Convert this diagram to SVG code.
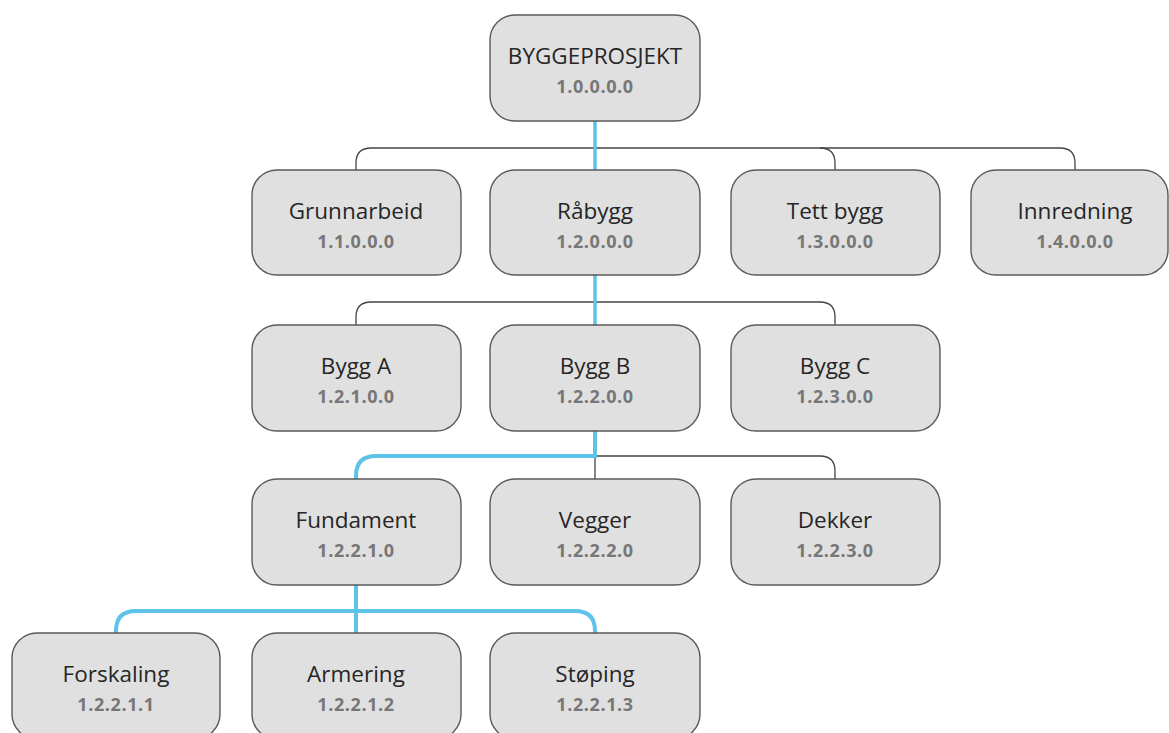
<svg xmlns="http://www.w3.org/2000/svg" width="1169" height="733" viewBox="0 0 1169 733">
<style>
.box{fill:#e0e0e0;stroke:#5a5a5a;stroke-width:1.4}
.lbl{font-family:"Open Sans","Liberation Sans",sans-serif;font-size:22.5px;fill:#262626;text-anchor:middle}
.num{font-family:"Open Sans","Liberation Sans",sans-serif;font-size:18px;font-weight:bold;fill:#777;text-anchor:middle;letter-spacing:0.6px}
.dk{fill:none;stroke:#444;stroke-width:1.3}
.bl{fill:none;stroke:#5ec3e8;stroke-width:4}
</style>
<rect width="1169" height="733" fill="#fff"/>
<g id="connectors">
<path class="dk" d="M356,170 V163 Q356,148 371,148 H1060 Q1075,148 1075,163 V170"/>
<path class="dk" d="M820,148 Q835,148 835,163 V170"/>
<path class="bl" d="M595,121 V170" style="stroke-width:3.5"/>
<path class="dk" d="M356,325 V317 Q356,302 371,302 H820 Q835,302 835,317 V325"/>
<path class="bl" d="M595,275 V325" style="stroke-width:3.5"/>
<path class="dk" d="M595,456 V479"/>
<path class="dk" d="M595,456 H820 Q835,456 835,471 V479"/>
<path class="bl" d="M595,431 V456 H376 Q356,456 356,476 V479"/>
<path class="bl" d="M356,585 V633"/>
<path class="bl" d="M116,633 V631 Q116,611 136,611 H575 Q595,611 595,631 V633"/>
</g>
<g id="n-byggeprosjekt"><rect class="box" x="490" y="15" width="210" height="106" rx="25"/><text class="lbl" x="595" y="64">BYGGEPROSJEKT</text><text class="num" x="595" y="93">1.0.0.0.0</text></g>
<g id="n-grunnarbeid"><rect class="box" x="252" y="170" width="209" height="105" rx="25"/><text class="lbl" x="356" y="219">Grunnarbeid</text><text class="num" x="356" y="248">1.1.0.0.0</text></g>
<g id="n-rabygg"><rect class="box" x="490" y="170" width="210" height="105" rx="25"/><text class="lbl" x="595" y="219">Råbygg</text><text class="num" x="595" y="248">1.2.0.0.0</text></g>
<g id="n-tettbygg"><rect class="box" x="731" y="170" width="209" height="105" rx="25"/><text class="lbl" x="835" y="219">Tett bygg</text><text class="num" x="835" y="248">1.3.0.0.0</text></g>
<g id="n-innredning"><rect class="box" x="971" y="170" width="197" height="105" rx="25"/><text class="lbl" x="1075" y="219">Innredning</text><text class="num" x="1075" y="248">1.4.0.0.0</text></g>
<g id="n-bygga"><rect class="box" x="252" y="325" width="209" height="106" rx="25"/><text class="lbl" x="356" y="374">Bygg A</text><text class="num" x="356" y="403">1.2.1.0.0</text></g>
<g id="n-byggb"><rect class="box" x="490" y="325" width="210" height="106" rx="25"/><text class="lbl" x="595" y="374">Bygg B</text><text class="num" x="595" y="403">1.2.2.0.0</text></g>
<g id="n-byggc"><rect class="box" x="731" y="325" width="209" height="106" rx="25"/><text class="lbl" x="835" y="374">Bygg C</text><text class="num" x="835" y="403">1.2.3.0.0</text></g>
<g id="n-fundament"><rect class="box" x="252" y="479" width="209" height="106" rx="25"/><text class="lbl" x="356" y="528">Fundament</text><text class="num" x="356" y="557">1.2.2.1.0</text></g>
<g id="n-vegger"><rect class="box" x="490" y="479" width="210" height="106" rx="25"/><text class="lbl" x="595" y="528">Vegger</text><text class="num" x="595" y="557">1.2.2.2.0</text></g>
<g id="n-dekker"><rect class="box" x="731" y="479" width="209" height="106" rx="25"/><text class="lbl" x="835" y="528">Dekker</text><text class="num" x="835" y="557">1.2.2.3.0</text></g>
<g id="n-forskaling"><rect class="box" x="12" y="633" width="208" height="106" rx="25"/><text class="lbl" x="116" y="682">Forskaling</text><text class="num" x="116" y="711">1.2.2.1.1</text></g>
<g id="n-armering"><rect class="box" x="252" y="633" width="209" height="106" rx="25"/><text class="lbl" x="356" y="682">Armering</text><text class="num" x="356" y="711">1.2.2.1.2</text></g>
<g id="n-stoping"><rect class="box" x="490" y="633" width="210" height="106" rx="25"/><text class="lbl" x="595" y="682">Støping</text><text class="num" x="595" y="711">1.2.2.1.3</text></g>
</svg>
